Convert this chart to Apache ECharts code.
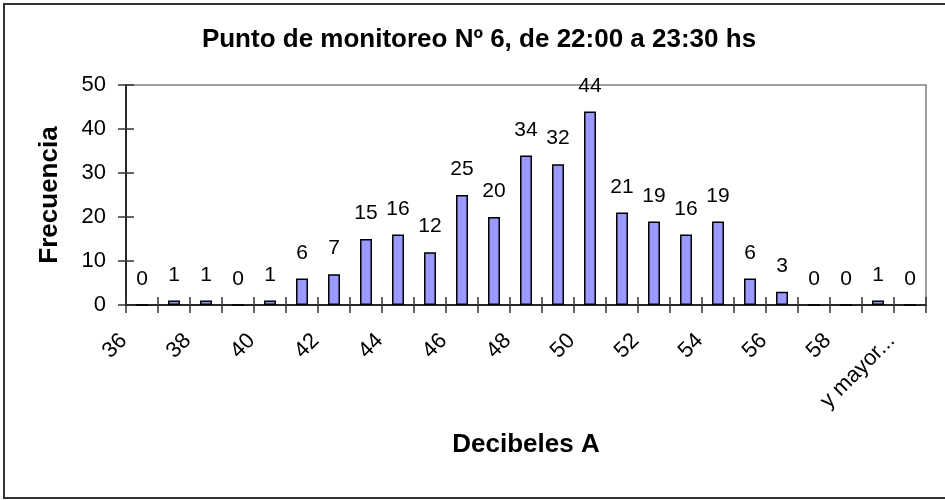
<!DOCTYPE html>
<html>
<head>
<meta charset="utf-8">
<script src="https://cdn.jsdelivr.net/npm/echarts@6/dist/echarts.min.js"></script>
<style>
  html, body { margin: 0; padding: 0; background: #fff; }
  #chart { width: 945px; height: 500px; }
</style>
</head>
<body>
<div id="chart"></div>
<script>
// bins de decibeles (el último es "y mayor...")
const categories = ['36', '37', '38', '39', '40', '41', '42', '43', '44', '45', '46', '47',
  '48', '49', '50', '51', '52', '53', '54', '55', '56', '57', '58', '59', 'y mayor...']
const frecuencia = [0, 1, 1, 0, 1, 6, 7, 15, 16, 12, 25, 20, 34, 32, 44, 21, 19, 16, 19, 6, 3, 0, 0, 1, 0]
const yTicks = { min: 0, max: 50, interval: 10 }

const FONT = '"Liberation Sans", Arial, sans-serif'
const tickStyle = { color: '#333', width: 1.5 }

const chart = echarts.init(document.getElementById('chart'))

chart.setOption({
  animation: false,
  backgroundColor: '#fff',
  title: {
    text: 'Punto de monitoreo Nº 6, de 22:00 a 23:30 hs',
    left: 474,
    top: 22,
    textAlign: 'center',
    textStyle: { fontFamily: FONT, fontSize: 26, fontWeight: 'bold', color: '#000' },
  },
  grid: {
    left: 126, right: 19, top: 85, bottom: 195,
    show: true, borderColor: '#808080', borderWidth: 1.5,
  },
  xAxis: [
    {
      type: 'category',
      data: categories,
      name: 'Decibeles A',
      nameLocation: 'middle',
      nameGap: 127,
      nameTextStyle: { fontFamily: FONT, fontSize: 26, fontWeight: 'bold', color: '#000' },
      axisLine: { lineStyle: { color: '#000', width: 1.5 } },
      axisTick: { show: true, interval: 0, length: 8, lineStyle: tickStyle },
      axisLabel: {
        interval: 1, rotate: 45, margin: 14, padding: [0, 26, 0, 0],
        fontFamily: FONT, fontSize: 22, color: '#000',
      },
    },
    {
      // marcas hacia adentro (cruzan el eje como en Excel)
      type: 'category',
      data: categories,
      position: 'bottom',
      offset: 0,
      axisLine: { show: false },
      axisTick: { show: true, interval: 0, inside: true, length: 8, lineStyle: tickStyle },
      axisLabel: { show: false },
    },
  ],
  yAxis: [
    {
      type: 'value',
      min: yTicks.min, max: yTicks.max, interval: yTicks.interval,
      name: 'Frecuencia',
      nameLocation: 'middle',
      nameGap: 63,
      nameTextStyle: { fontFamily: FONT, fontSize: 26, fontWeight: 'bold', color: '#000' },
      axisLine: { show: true, lineStyle: { color: '#000', width: 1.5 } },
      axisTick: { show: true, length: 8, lineStyle: tickStyle },
      axisLabel: { margin: 20, fontFamily: FONT, fontSize: 22, color: '#000' },
      splitLine: { show: false },
    },
    {
      type: 'value',
      min: yTicks.min, max: yTicks.max, interval: yTicks.interval,
      position: 'left',
      offset: 0,
      axisLine: { show: false },
      axisTick: { show: true, inside: true, length: 8, lineStyle: tickStyle },
      axisLabel: { show: false },
      splitLine: { show: false },
    },
  ],
  series: [
    {
      type: 'bar',
      data: frecuencia,
      barWidth: 12,
      itemStyle: { color: '#9999ff', borderColor: '#000', borderWidth: 1.5 },
      label: {
        show: true, position: 'top', distance: 15,
        fontFamily: FONT, fontSize: 21, color: '#000',
      },
    },
  ],
  graphic: [
    {
      type: 'rect',
      shape: { x: 4, y: 4, width: 960, height: 494 },
      style: { fill: 'none', stroke: '#333', lineWidth: 2 },
      silent: true,
    },
  ],
})
</script>
</body>
</html>
